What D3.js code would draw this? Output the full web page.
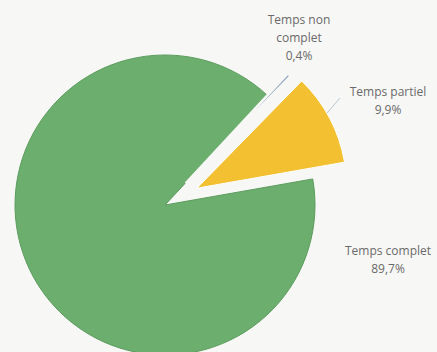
<!DOCTYPE html>
<html>
<head>
<meta charset="utf-8">
<script src="https://cdn.jsdelivr.net/npm/d3@7"></script>
<style>
  html, body { margin: 0; padding: 0; background: #f7f7f5; }
  svg { display: block; }
  text { font-family: "Open Sans", sans-serif; font-size: 12px; fill: #6a6a6a; }
</style>
</head>
<body>
<svg class="view" width="437" height="352"></svg>
<script>
var labels = ['Temps complet', 'Temps non complet', 'Temps partiel'];
var values = [89.7, 0.4, 9.9];
var valueText = ['89,7%', '0,4%', '9,9%'];
var colors = ['#6bae6d', '#8aa4bc', '#f2c030'];

var svg = d3.select('.view'),
    cx = 165,
    cy = 205,
    radius = 150;

var start = 80 * Math.PI / 180;
var pie = d3.pie()
    .sort(null)
    .startAngle(start)
    .endAngle(start + 2 * Math.PI)
    .value(function (d) { return d; });

var arcs = pie(values);
var arc = d3.arc().innerRadius(0).outerRadius(radius);
var explode = [0, 30, 36];
var strokes = ['#5c9c5e', '#f7f7f5', '#ffffff'];
var strokeW = [1, 2.6, 1];

var g = svg.append('g').attr('transform', 'translate(' + cx + ',' + cy + ')');

g.selectAll('path')
    .data(arcs)
    .enter().append('path')
    .attr('d', arc)
    .attr('transform', function (d, i) {
        var a = (d.startAngle + d.endAngle) / 2;
        return 'translate(' + (Math.sin(a) * explode[i]) + ',' + (-Math.cos(a) * explode[i]) + ')';
    })
    .attr('fill', function (d, i) { return colors[i]; })
    .attr('stroke', function (d, i) { return strokes[i]; })
    .attr('stroke-width', function (d, i) { return strokeW[i]; });

// short leader line for Temps partiel
g.append('line')
    .attr('x1', 175).attr('y1', -107)
    .attr('x2', 162).attr('y2', -92)
    .attr('stroke', '#b8c6d2').attr('stroke-width', 1);

var labelPos = [[388, 255], [299, 24], [388, 96]];
labelPos.forEach(function (p, i) {
    var t = svg.append('text')
        .attr('x', p[0]).attr('y', p[1])
        .attr('text-anchor', 'middle');
    var lines = i === 1 ? ['Temps non', 'complet', valueText[i]] : [labels[i], valueText[i]];
    lines.forEach(function (s, k) {
        t.append('tspan').attr('x', p[0]).attr('dy', k === 0 ? 0 : 18).text(s);
    });
});
</script>
</body>
</html>
